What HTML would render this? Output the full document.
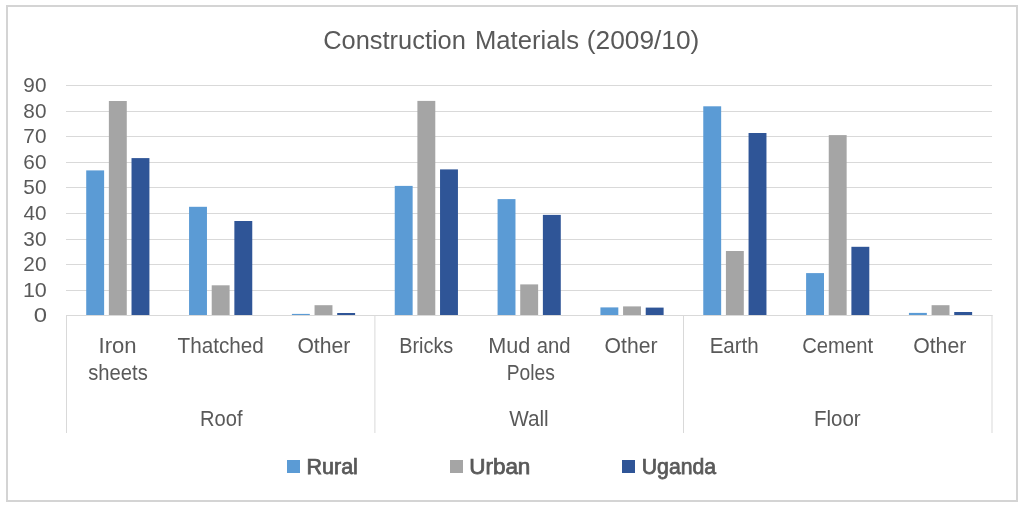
<!DOCTYPE html><html><head><meta charset="utf-8"><title>Construction Materials (2009/10)</title><style>html,body{margin:0;padding:0;background:#fff;width:1024px;height:507px;overflow:hidden}svg{display:block;will-change:transform}text{font-family:"Liberation Sans",sans-serif;fill:#595959}</style></head><body>
<svg width="1024" height="507" viewBox="0 0 1024 507">
<rect x="0" y="0" width="1024" height="507" fill="#fff"/>
<rect x="7" y="6" width="1010" height="495" fill="none" stroke="#D4D4D4" stroke-width="2"/>
<rect x="66" y="85" width="926" height="1" fill="#D9D9D9"/>
<rect x="66" y="111" width="926" height="1" fill="#D9D9D9"/>
<rect x="66" y="136" width="926" height="1" fill="#D9D9D9"/>
<rect x="66" y="162" width="926" height="1" fill="#D9D9D9"/>
<rect x="66" y="187" width="926" height="1" fill="#D9D9D9"/>
<rect x="66" y="213" width="926" height="1" fill="#D9D9D9"/>
<rect x="66" y="239" width="926" height="1" fill="#D9D9D9"/>
<rect x="66" y="264" width="926" height="1" fill="#D9D9D9"/>
<rect x="66" y="290" width="926" height="1" fill="#D9D9D9"/>
<rect x="86.22" y="170.4" width="17.90" height="144.6" fill="#5B9BD5"/>
<rect x="108.87" y="101.0" width="17.90" height="214.0" fill="#A5A5A5"/>
<rect x="131.52" y="158.1" width="17.90" height="156.9" fill="#2F5597"/>
<rect x="189.06" y="206.8" width="17.90" height="108.2" fill="#5B9BD5"/>
<rect x="211.71" y="285.3" width="17.90" height="29.7" fill="#A5A5A5"/>
<rect x="234.36" y="221.0" width="17.90" height="94.0" fill="#2F5597"/>
<rect x="291.90" y="313.9" width="17.90" height="1.1" fill="#5B9BD5"/>
<rect x="314.55" y="305.2" width="17.90" height="9.8" fill="#A5A5A5"/>
<rect x="337.20" y="313.0" width="17.90" height="2.0" fill="#2F5597"/>
<rect x="394.74" y="185.9" width="17.90" height="129.1" fill="#5B9BD5"/>
<rect x="417.39" y="100.9" width="17.90" height="214.1" fill="#A5A5A5"/>
<rect x="440.04" y="169.4" width="17.90" height="145.6" fill="#2F5597"/>
<rect x="497.58" y="199.1" width="17.90" height="115.9" fill="#5B9BD5"/>
<rect x="520.23" y="284.4" width="17.90" height="30.6" fill="#A5A5A5"/>
<rect x="542.88" y="214.9" width="17.90" height="100.1" fill="#2F5597"/>
<rect x="600.42" y="307.4" width="17.90" height="7.6" fill="#5B9BD5"/>
<rect x="623.07" y="306.4" width="17.90" height="8.6" fill="#A5A5A5"/>
<rect x="645.72" y="307.6" width="17.90" height="7.4" fill="#2F5597"/>
<rect x="703.26" y="106.3" width="17.90" height="208.7" fill="#5B9BD5"/>
<rect x="725.91" y="251.0" width="17.90" height="64.0" fill="#A5A5A5"/>
<rect x="748.56" y="133.0" width="17.90" height="182.0" fill="#2F5597"/>
<rect x="806.10" y="273.1" width="17.90" height="41.9" fill="#5B9BD5"/>
<rect x="828.75" y="135.1" width="17.90" height="179.9" fill="#A5A5A5"/>
<rect x="851.40" y="246.8" width="17.90" height="68.2" fill="#2F5597"/>
<rect x="908.94" y="312.9" width="17.90" height="2.1" fill="#5B9BD5"/>
<rect x="931.59" y="305.2" width="17.90" height="9.8" fill="#A5A5A5"/>
<rect x="954.24" y="312.0" width="17.90" height="3.0" fill="#2F5597"/>
<rect x="66" y="315" width="926.5" height="1" fill="#D9D9D9"/>
<rect x="66" y="315" width="1" height="118" fill="#D9D9D9"/>
<rect x="374.4" y="315" width="1" height="118" fill="#D9D9D9"/>
<rect x="683" y="315" width="1" height="118" fill="#D9D9D9"/>
<rect x="991.5" y="315" width="1" height="118" fill="#D9D9D9"/>
<rect x="287" y="460" width="13" height="13" fill="#5B9BD5"/>
<rect x="450" y="460" width="13" height="13" fill="#A5A5A5"/>
<rect x="622" y="460" width="13" height="13" fill="#2F5597"/>
<text x="323.20" y="48.90" font-size="25.60" textLength="142.68" lengthAdjust="spacingAndGlyphs">Construction</text>
<text x="474.99" y="48.90" font-size="25.60" textLength="103.99" lengthAdjust="spacingAndGlyphs">Materials</text>
<text x="586.76" y="48.90" font-size="25.60" textLength="112.61" lengthAdjust="spacingAndGlyphs">(2009/10)</text>
<text x="23.36" y="91.80" font-size="19.80" textLength="23.06" lengthAdjust="spacingAndGlyphs">90</text>
<text x="23.36" y="117.80" font-size="19.80" textLength="23.06" lengthAdjust="spacingAndGlyphs">80</text>
<text x="23.36" y="142.80" font-size="19.80" textLength="23.06" lengthAdjust="spacingAndGlyphs">70</text>
<text x="23.36" y="168.80" font-size="19.80" textLength="23.06" lengthAdjust="spacingAndGlyphs">60</text>
<text x="23.36" y="193.80" font-size="19.80" textLength="23.06" lengthAdjust="spacingAndGlyphs">50</text>
<text x="23.41" y="219.80" font-size="19.80" textLength="23.02" lengthAdjust="spacingAndGlyphs">40</text>
<text x="23.36" y="245.80" font-size="19.80" textLength="23.06" lengthAdjust="spacingAndGlyphs">30</text>
<text x="23.36" y="270.80" font-size="19.80" textLength="23.06" lengthAdjust="spacingAndGlyphs">20</text>
<text x="22.91" y="296.80" font-size="19.80" textLength="23.92" lengthAdjust="spacingAndGlyphs">10</text>
<text x="33.79" y="321.80" font-size="19.80" textLength="13.26" lengthAdjust="spacingAndGlyphs">0</text>
<text x="98.55" y="352.60" font-size="21.20" textLength="38.09" lengthAdjust="spacingAndGlyphs">Iron</text>
<text x="88.23" y="380.30" font-size="21.20" textLength="59.52" lengthAdjust="spacingAndGlyphs">sheets</text>
<text x="177.59" y="352.60" font-size="21.20" textLength="86.24" lengthAdjust="spacingAndGlyphs">Thatched</text>
<text x="297.40" y="352.60" font-size="21.20" textLength="52.91" lengthAdjust="spacingAndGlyphs">Other</text>
<text x="399.26" y="352.60" font-size="21.20" textLength="54.01" lengthAdjust="spacingAndGlyphs">Bricks</text>
<text x="488.16" y="352.60" font-size="21.20" textLength="42.16" lengthAdjust="spacingAndGlyphs">Mud</text>
<text x="536.84" y="352.60" font-size="21.20" textLength="33.81" lengthAdjust="spacingAndGlyphs">and</text>
<text x="506.69" y="380.40" font-size="21.20" textLength="48.11" lengthAdjust="spacingAndGlyphs">Poles</text>
<text x="604.60" y="352.60" font-size="21.20" textLength="52.91" lengthAdjust="spacingAndGlyphs">Other</text>
<text x="709.63" y="352.60" font-size="21.20" textLength="49.11" lengthAdjust="spacingAndGlyphs">Earth</text>
<text x="802.23" y="352.60" font-size="21.20" textLength="70.79" lengthAdjust="spacingAndGlyphs">Cement</text>
<text x="913.20" y="352.60" font-size="21.20" textLength="53.11" lengthAdjust="spacingAndGlyphs">Other</text>
<text x="200.05" y="425.60" font-size="21.20" textLength="42.43" lengthAdjust="spacingAndGlyphs">Roof</text>
<text x="509.18" y="425.60" font-size="21.20" textLength="39.54" lengthAdjust="spacingAndGlyphs">Wall</text>
<text x="814.03" y="425.60" font-size="21.20" textLength="46.68" lengthAdjust="spacingAndGlyphs">Floor</text>
<text x="306.60" y="473.90" font-size="21.20" stroke="#595959" stroke-width="0.75" textLength="51.26" lengthAdjust="spacingAndGlyphs">Rural</text>
<text x="469.18" y="473.90" font-size="21.20" stroke="#595959" stroke-width="0.75" textLength="61.21" lengthAdjust="spacingAndGlyphs">Urban</text>
<text x="641.80" y="473.90" font-size="21.20" stroke="#595959" stroke-width="0.75" textLength="74.23" lengthAdjust="spacingAndGlyphs">Uganda</text>
</svg></body></html>
